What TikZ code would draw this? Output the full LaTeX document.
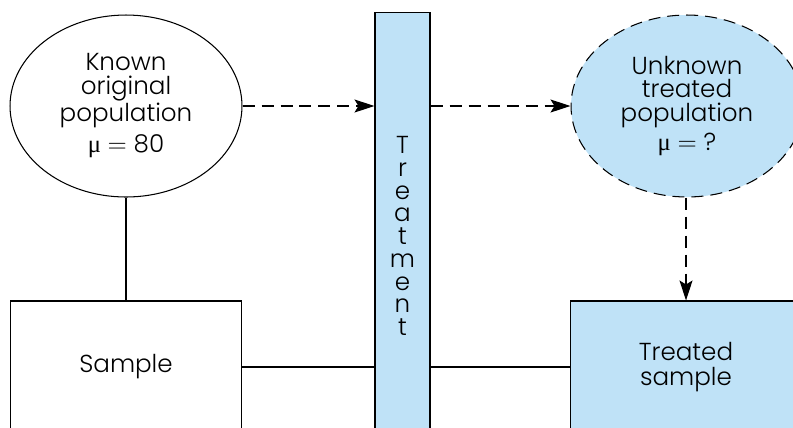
\documentclass[tikz,border=0pt]{standalone}
\usepackage{fontspec}
\setmainfont{Poppins}[UprightFont=* Light]
\newfontfamily\mufont{Liberation Serif}
\usepackage{xcolor}
\usetikzlibrary{shapes.geometric,arrows.meta}
\definecolor{treatblue}{RGB}{191,226,247}

\begin{document}
\begin{tikzpicture}[x=0.02cm,y=-0.02cm,
  popnode/.style={ellipse,draw,line width=0.6pt,inner sep=0pt,minimum width=4.64cm,minimum height=3.64cm,align=center,font=\fontsize{14}{13.6}\selectfont},
  samplebox/.style={rectangle,draw,line width=0.6pt,minimum width=4.62cm,minimum height=2.64cm,align=center,font=\fontsize{14}{14.4}\selectfont},
  dashline/.style={line width=0.7pt,dash pattern=on 0.24cm off 0.14cm,-{Stealth[length=0.4cm,width=0.26cm,inset=0.08cm]}}]
\useasboundingbox (0,0) rectangle (793,427);
\clip (0,0) rectangle (793,427);
\node (known) at (126,106) [popnode] {Known\\original\\population\\[3pt]{\mufont μ} $=$ 80};
\node (unknown) at (687,106) [popnode,fill=treatblue,dash pattern=on 0.24cm off 0.14cm] {Unknown\\treated\\population\\[3pt]{\mufont μ} $=$ ?};
\node (treat) at (402.5,236) [rectangle,draw,fill=treatblue,line width=0.6pt,minimum width=1.1cm,minimum height=8.96cm,align=center,font=\fontsize{14}{12.95}\selectfont] {T\\r\\e\\a\\t\\m\\e\\n\\t};
\node (sample) at (126,367) [samplebox] {Sample};
\node (treated) at (686,367) [samplebox,fill=treatblue] {Treated\\sample};
\draw[line width=0.6pt] (known) -- (sample);
\draw[line width=0.6pt] (sample) -- (sample -| treat.west);
\draw[line width=0.6pt] (treated -| treat.east) -- (treated);
\draw[dashline] (known.east) -- (known.east -| treat.west);
\draw[dashline] (unknown.west -| treat.east) -- (unknown.west);
\draw[dashline] (unknown.south -| treated.north) -- (treated.north);
\end{tikzpicture}
\end{document}
